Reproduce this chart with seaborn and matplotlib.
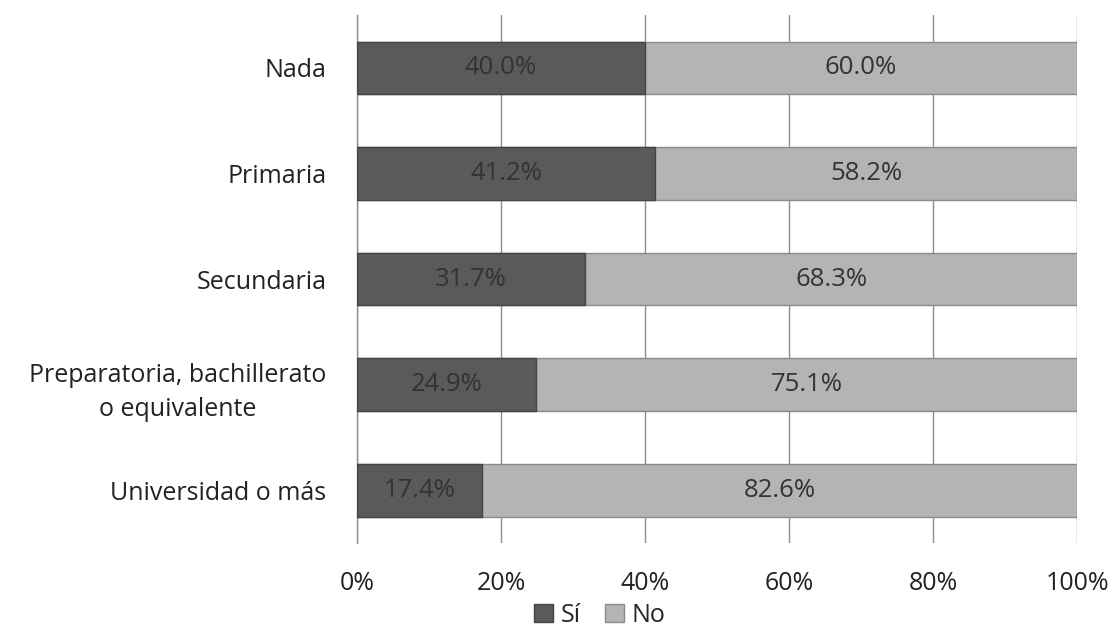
import numpy as np
import pandas as pd
import matplotlib
matplotlib.use("Agg")
import matplotlib.pyplot as plt
import seaborn as sns
from matplotlib.patches import Patch

categories = ["Nada", "Primaria", "Secundaria",
              "Preparatoria, bachillerato\no equivalente", "Universidad o más"]
si_values = [40.0, 41.2, 31.7, 24.9, 17.4]
no_values = [60.0, 58.2, 68.3, 75.1, 82.6]
x_ticks = [0, 20, 40, 60, 80, 100]

sns.set_style("white")
plt.rcParams['font.family'] = ['Open Sans', 'DejaVu Sans']

df = pd.DataFrame({"cat": categories, "si": si_values, "no": no_values})
df["total"] = df["si"] + df["no"]
# 100% stacked: normalise each row
df["si_n"] = df["si"] / df["total"] * 100
df["end_n"] = (df["si"] + df["no"]) / df["total"] * 100

fig = plt.figure(figsize=(11.17, 6.31), dpi=100)
ax = fig.add_axes([0.3196, 0.1395, 0.6446, 0.8365])

c_si = "#5a5a5a"
c_no = "#b4b4b4"

sns.barplot(data=df, y="cat", x="end_n", color=c_no, width=0.5,
            edgecolor="#8a8a8a", linewidth=1.0, saturation=1, ax=ax, zorder=3)
sns.barplot(data=df, y="cat", x="si_n", color=c_si, width=0.5,
            edgecolor="#444444", linewidth=1.0, saturation=1, ax=ax, zorder=4)

# data labels
for i, row in df.iterrows():
    ax.text(row["si_n"] / 2, i, f"{row['si']:.1f}%", ha="center", va="center",
            fontsize=18.5, color="#333333", zorder=5)
    ax.text(row["si_n"] + (row["end_n"] - row["si_n"]) / 2, i, f"{row['no']:.1f}%",
            ha="center", va="center", fontsize=18.5, color="#333333", zorder=5)

ax.set_xlim(0, 100)
ax.set_ylim(len(categories) - 0.5, -0.5)
ax.set_xticks(x_ticks)
ax.set_xticklabels([f"{t}%" for t in x_ticks], fontsize=18, color="#222222")
ax.tick_params(axis="x", length=0, pad=20)
ax.xaxis.grid(True, color="#8c8c8c", linewidth=1.0, zorder=0)
ax.set_axisbelow(True)

ax.set_yticks(range(len(categories)))
ax.set_yticklabels(categories, fontsize=18, color="#222222", linespacing=1.5,
                   multialignment="center")
ax.tick_params(axis="y", which="major", length=0, pad=22)
ax.set_yticks(np.arange(-0.5, len(categories), 1), minor=True)
ax.tick_params(axis="y", which="minor", length=6, width=1, color="#8c8c8c", direction="out")

ax.set_xlabel("")
ax.set_ylabel("")
for s in ["top", "right", "bottom"]:
    ax.spines[s].set_visible(False)
ax.spines["left"].set_color("#8c8c8c")
ax.spines["left"].set_linewidth(1.0)

handles = [Patch(facecolor=c_si, edgecolor="#444444", label="Sí"),
           Patch(facecolor=c_no, edgecolor="#8a8a8a", label="No")]
fig.legend(handles=handles, loc="center", bbox_to_anchor=(0.537, 0.025),
           ncol=2, frameon=False, fontsize=18, handlelength=0.75, handleheight=0.75,
           handletextpad=0.3, columnspacing=1.0, borderpad=0,
           bbox_transform=fig.transFigure)

fig.savefig("out.png", dpi=100)
